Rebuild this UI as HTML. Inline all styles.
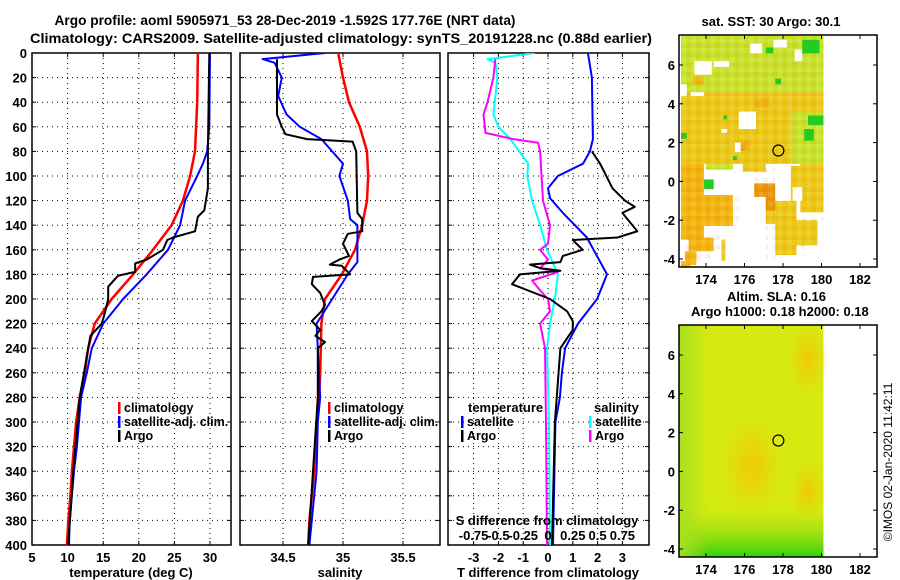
<!DOCTYPE html>
<html><head><meta charset="utf-8"><style>
html,body{margin:0;padding:0;background:#fff;}
svg{display:block;font-family:"Liberation Sans",Arial,sans-serif;font-weight:bold;}
text{font-size:13px;fill:#000;}
</style></head><body>
<svg id="fig" width="900" height="580" viewBox="0 0 900 580" xmlns="http://www.w3.org/2000/svg">
<defs>
<clipPath id="c1"><rect x="32" y="53" width="199" height="492"/></clipPath>
<clipPath id="c2"><rect x="240" y="53" width="200" height="492"/></clipPath>
<clipPath id="c3"><rect x="448" y="53" width="201" height="492"/></clipPath>
<clipPath id="cm1"><rect x="679" y="35" width="198" height="232"/></clipPath>
<clipPath id="cm2"><rect x="679" y="325" width="198" height="232"/></clipPath>
<linearGradient id="slaGreen" x1="0" y1="0" x2="0" y2="1">
<stop offset="0" stop-color="#d4ea10" stop-opacity="0"/>
<stop offset="1" stop-color="#30d010" stop-opacity="1"/>
</linearGradient>
<linearGradient id="slaLeft" x1="0" y1="0" x2="1" y2="0">
<stop offset="0" stop-color="#a8e020" stop-opacity="1"/>
<stop offset="1" stop-color="#a8e020" stop-opacity="0"/>
</linearGradient>
<radialGradient id="slaOrange"><stop offset="0" stop-color="#f2c800" stop-opacity="0.9"/><stop offset="1" stop-color="#f2c800" stop-opacity="0"/></radialGradient>
<pattern id="mottle" x="0" y="0" width="9.6" height="9.6" patternUnits="userSpaceOnUse">
<rect x="0" y="0" width="4.8" height="4.8" fill="#fff" fill-opacity="0.12"/>
<rect x="4.8" y="4.8" width="4.8" height="4.8" fill="#c06000" fill-opacity="0.10"/>
</pattern>
</defs>
<text x="285" y="25" text-anchor="middle" style="font-size:14px" textLength="461" lengthAdjust="spacingAndGlyphs">Argo profile: aoml 5905971_53 28-Dec-2019 -1.592S 177.76E (NRT data)</text>
<text x="30" y="43" textLength="622" lengthAdjust="spacingAndGlyphs" style="font-size:14px">Climatology: CARS2009. Satellite-adjusted climatology: synTS_20191228.nc (0.88d earlier)</text>
<g id="g1"></g>
<g id="g2"></g>
<g id="g3"></g>
<g id="gm1"></g>
<g id="gm2"></g>
<text transform="translate(892,462) rotate(-90)" text-anchor="middle" style="font-size:12px;font-weight:normal">©IMOS 02-Jan-2020 11:42:11</text>
</svg>
<script>
// ---- data ----
const depthTicks=[0,20,40,60,80,100,120,140,160,180,200,220,240,260,280,300,320,340,360,380,400];
const tempTicks=[5,10,15,20,25,30];
const salTicks=[34.5,35,35.5];
const salTickLabels=["34.5","35","35.5"];
const tdiffTicks=[-3,-2,-1,0,1,2,3];
const sdiffTicks=[-0.75,-0.5,-0.25,0,0.25,0.5,0.75];
const sdiffTickLabels=["-0.75","-0.5","-0.25","0","0.25","0.5","0.75"];

const tClimDepth=[0,40,80,100,120,140,160,180,200,220,240,260,280,300,320,340,360,380,400];
const tClimVal=[28.3,28.2,27.9,27.2,26.2,24.6,22.0,19.2,16.2,13.8,12.9,12.4,11.7,11.2,10.9,10.6,10.4,10.1,9.9];
const tSatDepth=[0,60,80,90,100,120,140,160,180,200,220,240,260,280,300,320,340,360,380,400];
const tSatVal=[30.0,29.9,29.6,29.0,28.2,26.5,25.8,24.1,21.1,17.8,15.0,13.4,12.7,11.9,11.6,11.3,10.9,10.6,10.3,10.2];
const tArgoDepth=[0,80,110,128,133,145,150,152,160,168,171,178,181,190,200,210,220,230,240,260,280,300,340,400];
const tArgoVal=[29.9,29.7,29.7,29.2,28.3,27.9,24.8,24.0,23.4,21.1,19.5,19.5,17.1,15.7,15.7,15.3,14.8,13.2,12.9,12.3,11.7,11.4,10.8,10.1];

const sClimDepth=[0,20,40,60,80,100,120,140,160,180,200,220,260,280,300,340,380,400];
const sClimVal=[34.96,35.0,35.05,35.14,35.2,35.21,35.2,35.16,35.1,34.99,34.85,34.82,34.81,34.8,34.78,34.76,34.72,34.71];
const sSatDepth=[0,5,8,20,35,50,60,70,80,90,100,120,135,140,170,180,200,220,280,300,340,400];
const sSatVal=[34.85,34.33,34.43,34.49,34.46,34.53,34.64,34.82,34.91,35.0,34.97,35.04,35.06,35.12,35.12,35.04,34.91,34.78,34.81,34.79,34.78,34.72];
const sArgoDepth=[5,50,60,66,70,72,80,130,135,145,147,155,165,168,172,173,180,182,188,195,205,210,218,225,230,235,240,280,340,400];
const sArgoVal=[34.45,34.45,34.49,34.52,34.7,35.08,35.11,35.12,35.16,35.16,35.04,35.0,35.05,34.97,34.89,34.99,35.06,34.75,34.74,34.81,34.85,34.82,34.74,34.81,34.77,34.85,34.79,34.79,34.75,34.71];

const dTSatDepth=[0,20,70,80,90,100,110,118,130,150,180,200,220,240,260,280,300,350,400];
const dTSatVal=[1.61,1.77,1.81,1.69,1.41,0.4,0.0,0.08,0.6,1.57,2.38,1.98,1.21,0.69,0.56,0.48,0.3,0.25,0.2];
const dTArgoDepth=[80,90,110,120,125,130,145,150,152,160,165,170,172,175,177,180,188,200,210,218,225,240,300,400];
const dTArgoVal=[1.77,2.1,2.6,3.1,3.5,3.0,3.6,2.8,1.0,1.4,0.6,0.5,-0.73,-0.3,0.5,-1.13,-1.45,0.08,0.77,1.0,1.0,0.5,0.28,0.16];
const dSSatDepth=[0,5,8,20,50,60,70,90,100,120,140,160,180,200,220,240,300,400];
const dSSatVal=[-0.13,-0.61,-0.53,-0.51,-0.55,-0.5,-0.38,-0.2,-0.21,-0.16,-0.08,-0.01,0.1,0.07,0.02,-0.01,0.01,0.02];
const dSArgoDepth=[5,20,40,50,65,70,73,80,120,140,155,160,168,175,178,185,193,200,210,220,240,300,400];
const dSArgoVal=[-0.53,-0.55,-0.61,-0.65,-0.63,-0.35,-0.1,-0.08,-0.05,0.02,0.0,-0.08,0.0,-0.08,0.1,-0.16,-0.08,0.0,0.02,-0.08,-0.03,-0.02,-0.01];

const lonTicks=[174,176,178,180,182];
const latTicks=[-4,-2,0,2,4,6];
const argoLon=[177.76];
const argoLat=[1.592];
// SST patches: [lon0,lat0,lon1,lat1]
const sstYellowGreen=[[172.7,4.6,180.1,7.5],[178.4,3.6,180.1,0.9],[174.0,1.0,175.4,0.6]];
const sstYellow=[[172.7,0.9,178.4,4.6],[178.4,4.6,180.1,3.6],[175.9,0.5,177.1,0.9],[177.1,-0.9,177.6,-2.2],[177.6,-1.0,178.7,-3.8],[178.7,-2.0,179.8,-3.3],[174.8,-3.0,175.4,-4.1],[178.9,0.9,180.1,-1.6],[178.4,0.8,180.1,-1.0]];
const sstOrange=[[172.7,0.9,173.9,-3.0],[173.9,-0.7,175.4,-2.3],[173.1,-2.9,174.4,-3.6],[172.9,-3.6,173.5,-4.3],[175.6,1.6,176.3,2.1],[172.7,-4.1,173.2,-4.4],[176.5,3.8,177.3,4.3],[173.3,5.4,173.9,5.0]];
const sstDarkOrange=[[176.5,-0.1,177.6,-1.5],[175.6,1.9,176.0,1.6]];
const sstGreen=[[179.0,7.3,179.9,6.6],[177.1,6.9,177.5,6.6],[179.3,3.4,180.1,2.9],[179.1,2.7,179.6,2.1],[173.9,0.1,174.4,-0.4],[177.6,5.3,177.9,5.0],[174.9,3.4,175.1,3.2],[175.4,1.3,175.6,1.1],[172.7,2.5,173.0,2.2]];
const sstWhite=[[173.4,6.2,174.3,5.5],[174.4,6.2,175.2,5.9],[172.7,5.0,173.0,4.4],[173.2,4.6,173.9,4.4],[175.7,3.6,176.6,2.7],[174.8,2.7,175.1,2.5],[175.5,2.0,175.8,1.5],[176.3,7.1,176.9,6.6],[177.5,7.3,178.2,6.9],[178.6,6.8,179.0,6.2],[173.9,0.6,175.9,-0.7],[175.4,0.9,175.9,0.6],[175.9,0.5,176.5,-2.3],[176.1,-0.8,177.1,-4.4],[173.9,-2.3,175.0,-2.8],[175.0,-2.3,177.1,-4.4],[174.3,-3.6,174.8,-4.4],[177.6,0.9,178.4,-1.0],[178.5,-0.3,179.0,-1.0],[177.6,-3.8,180.1,-4.4],[179.8,-2.0,180.1,-4.4],[179.1,-3.3,179.8,-4.4],[178.7,-1.9,180.1,-1.6],[173.5,-4.1,174.4,-4.4],[172.7,-3.6,172.9,-4.1]];

// ---- helpers ----
const NS="http://www.w3.org/2000/svg";
function mk(parent,tag,attrs){const e=document.createElementNS(NS,tag);for(const k in attrs)e.setAttribute(k,attrs[k]);parent.appendChild(e);return e;}
const yD=d=>53+d*1.23;
const x1=t=>32+(t-5)*7.12;
const x2=s=>283+(s-34.5)*120;
const x3=t=>548+t*24.8;
const xs=s=>548+s*99.2;
const mx=lon=>706+(lon-174)*19.25;
const myT=lat=>259-(lat+4)*19.4;
const myB=lat=>549-(lat+4)*19.4;

function panelFrame(g,x0,x1v,xTickPos,xTickLab,showY){
  for(const d of depthTicks){
    const y=yD(d);
    if(d>0&&d<400){const l=mk(g,'line',{x1:x0,x2:x1v,y1:y,y2:y,stroke:'#000','stroke-width':1,'stroke-dasharray':'1 4'});
    
    }
    mk(g,'line',{x1:x0,x2:x0+4,y1:y,y2:y,stroke:'#000'});
    mk(g,'line',{x1:x1v-4,x2:x1v,y1:y,y2:y,stroke:'#000'});
    if(showY){const t=mk(g,'text',{x:27,y:y+5,'text-anchor':'end'});t.textContent=d;
    
    }
  }
  xTickPos.forEach((x,i)=>{
    if(x>x0+2&&x<x1v-2){const l=mk(g,'line',{x1:x,x2:x,y1:53,y2:545,stroke:'#000','stroke-width':1,'stroke-dasharray':'1 4'});
    
    }
    mk(g,'line',{x1:x,x2:x,y1:545,y2:541,stroke:'#000'});
    mk(g,'line',{x1:x,x2:x,y1:53,y2:57,stroke:'#000'});
    const t=mk(g,'text',{x:x,y:562,'text-anchor':'middle'});t.textContent=xTickLab[i];
    
    
  });
  const r=mk(g,'rect',{x:x0,y:53,width:x1v-x0,height:492,fill:'none',stroke:'#000','stroke-width':1.5});
  
  
}
function series(g,clip,depth,val,xf,color,w,name){
  const pts=depth.map((d,i)=>xf(val[i]).toFixed(1)+','+yD(d).toFixed(1)).join(' ');
  const p=mk(g,'polyline',{points:pts,fill:'none',stroke:color,'stroke-width':w,'clip-path':'url(#'+clip+')','stroke-linejoin':'round'});
  
  
}
function legend(g,x,y,color,label,name){
  mk(g,'rect',{x:x,y:y-10,width:2.5,height:12,fill:color});
  const t=mk(g,'text',{x:x+6,y:y,style:'font-size:12.5px'});t.textContent=label;
  
  
}
function label(g,x,y,txt,name,anchor){const t=mk(g,'text',{x:x,y:y,'text-anchor':anchor||'middle'});t.textContent=txt;
  
  return t;}

// ---- panel 1 ----
const g1=document.getElementById('g1');
panelFrame(g1,32,231,tempTicks.map(x1),tempTicks.map(String),true);
series(g1,'c1',tClimDepth,tClimVal,x1,'#ff0000',2.5,'climatology-temperature-line');
series(g1,'c1',tSatDepth,tSatVal,x1,'#0000ff',2,'satellite-temperature-line');
series(g1,'c1',tArgoDepth,tArgoVal,x1,'#000000',2,'argo-temperature-line');
legend(g1,118,412,'#ff0000','climatology','legend-climatology');
legend(g1,118,426,'#0000ff','satellite-adj. clim.','legend-satellite');
legend(g1,118,440,'#000000','Argo','legend-argo');
label(g1,131,577,'temperature (deg C)','x-axis-title-temperature');

// ---- panel 2 ----
const g2=document.getElementById('g2');
panelFrame(g2,240,440,salTicks.map(x2),salTickLabels,false);
series(g2,'c2',sClimDepth,sClimVal,x2,'#ff0000',2.5,'climatology-salinity-line');
series(g2,'c2',sSatDepth,sSatVal,x2,'#0000ff',2,'satellite-salinity-line');
series(g2,'c2',sArgoDepth,sArgoVal,x2,'#000000',2,'argo-salinity-line');
legend(g2,328,412,'#ff0000','climatology','legend-climatology');
legend(g2,328,426,'#0000ff','satellite-adj. clim.','legend-satellite');
legend(g2,328,440,'#000000','Argo','legend-argo');
label(g2,340,577,'salinity','x-axis-title-salinity');

// ---- panel 3 ----
const g3=document.getElementById('g3');
panelFrame(g3,448,649,tdiffTicks.map(x3),tdiffTicks.map(String),false);
series(g3,'c3',dSSatDepth,dSSatVal,xs,'#00ffff',2,'satellite-salinity-diff-line');
series(g3,'c3',dSArgoDepth,dSArgoVal,xs,'#ff00ff',2,'argo-salinity-diff-line');
series(g3,'c3',dTSatDepth,dTSatVal,x3,'#0000ff',2,'satellite-temperature-diff-line');
series(g3,'c3',dTArgoDepth,dTArgoVal,x3,'#000000',2,'argo-temperature-diff-line');
label(g3,468,412,'temperature','legend-temperature-header','start');
legend(g3,461,426,'#0000ff','satellite','legend-t-satellite');
legend(g3,461,440,'#000000','Argo','legend-t-argo');
label(g3,594,412,'salinity','legend-salinity-header','start');
legend(g3,589,426,'#00ffff','satellite','legend-s-satellite');
legend(g3,589,440,'#ff00ff','Argo','legend-s-argo');
label(g3,547,525,'S difference from climatology','s-axis-title');
sdiffTicks.forEach((s,i)=>{label(g3,xs(s),540,sdiffTickLabels[i],'s-tick-label');});
label(g3,548,577,'T difference from climatology','x-axis-title-tdiff');

// ---- maps ----
function mapAxes(g,my,top,bottom){
  const r=mk(g,'rect',{x:679,y:top,width:198,height:bottom-top,fill:'none',stroke:'#000','stroke-width':1.5});
  
  
  for(const lon of lonTicks){const x=mx(lon);
    mk(g,'line',{x1:x,x2:x,y1:bottom,y2:bottom-4,stroke:'#000'});
    mk(g,'line',{x1:x,x2:x,y1:top,y2:top+4,stroke:'#000'});
    label(g,x,bottom+17,String(lon),'lon-tick-label');}
  for(const lat of latTicks){const y=my(lat);if(y<top||y>bottom)continue;
    mk(g,'line',{x1:679,x2:683,y1:y,y2:y,stroke:'#000'});
    mk(g,'line',{x1:873,x2:877,y1:y,y2:y,stroke:'#000'});
    label(g,675,y+5,String(lat),'lat-tick-label','end');}
  argoLon.forEach((lo,i)=>{const c=mk(g,'circle',{cx:mx(lo),cy:my(argoLat[i]),r:5.5,fill:'none',stroke:'#000','stroke-width':1.2});
    
    });
}
function patches(g,list,my,color,name,clip){
  list.forEach(p=>{const x=mx(p[0]),x2b=mx(p[2]),ya=my(p[1]),yb=my(p[3]);
    const r=mk(g,'rect',{x:Math.min(x,x2b),y:Math.min(ya,yb),width:Math.abs(x2b-x),height:Math.abs(yb-ya),fill:color,'clip-path':'url(#'+clip+')'});
    
    });
}
const gm1=document.getElementById('gm1');
label(gm1,771,26,'sat. SST: 30 Argo: 30.1','sst-map-title');
patches(gm1,sstYellowGreen,myT,'#c9e22a','sst-cell','cm1');
patches(gm1,sstYellow,myT,'#ecc817','sst-cell','cm1');
patches(gm1,sstOrange,myT,'#f3b40e','sst-cell','cm1');
patches(gm1,sstDarkOrange,myT,'#ec9408','sst-cell','cm1');
mk(gm1,'rect',{x:681,y:37,width:mx(180.1)-681,height:228,fill:'url(#mottle)'});
patches(gm1,sstWhite,myT,'#ffffff','sst-missing','cm1');
patches(gm1,sstGreen,myT,'#22cc22','sst-cell','cm1');
mapAxes(gm1,myT,35,267);

const gm2=document.getElementById('gm2');
label(gm2,727,301,'Altim. SLA: 0.16','sla-map-title-1','start');
label(gm2,691,316,'Argo h1000: 0.18 h2000: 0.18','sla-map-title-2','start');
const bg=mk(gm2,'rect',{x:679,y:325,width:mx(180.1)-679,height:232,fill:'#d6ea12'});


mk(gm2,'ellipse',{cx:mx(176.4),cy:myB(0.3),rx:32,ry:50,fill:'url(#slaOrange)','clip-path':'url(#cm2)'});
mk(gm2,'ellipse',{cx:mx(179.3),cy:myB(-1),rx:18,ry:30,fill:'url(#slaOrange)','clip-path':'url(#cm2)'});
mk(gm2,'ellipse',{cx:mx(179.3),cy:myB(5.8),rx:20,ry:35,fill:'url(#slaOrange)','clip-path':'url(#cm2)'});
mk(gm2,'rect',{x:679,y:myB(-1.5),width:mx(180.1)-679,height:557-myB(-1.5),fill:'url(#slaGreen)'});
mk(gm2,'rect',{x:679,y:325,width:30,height:232,fill:'url(#slaLeft)'});
mapAxes(gm2,myB,325,557);
</script>
</body></html>
